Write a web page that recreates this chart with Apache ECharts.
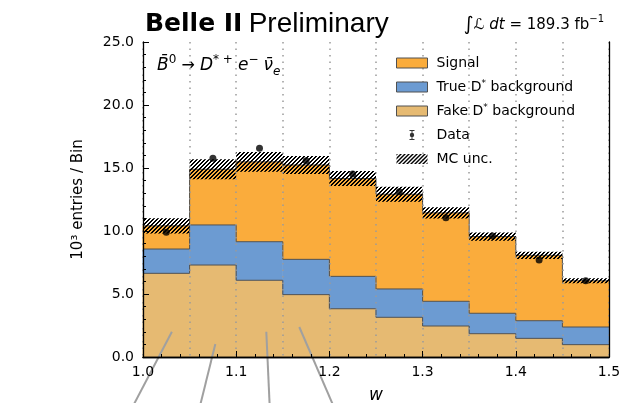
<!DOCTYPE html>
<html>
<head>
<meta charset="utf-8">
<script src="https://cdn.jsdelivr.net/npm/echarts@6/dist/echarts.min.js"></script>
<style>
  html, body { margin: 0; padding: 0; background: #fff; }
  #main { width: 621px; height: 403px; }
</style>
</head>
<body>
<div id="main"></div>
<script>
// bin edges in w, 10 bins
var binEdges = [1.00, 1.05, 1.10, 1.15, 1.20, 1.25, 1.30, 1.35, 1.40, 1.45, 1.50];
// stacked components (10^3 entries / bin)
var fakeBkg = [6.64, 7.30, 6.09, 4.95, 3.83, 3.15, 2.46, 1.85, 1.48, 0.98];
var trueBkg = [1.93, 3.18, 3.06, 2.80, 2.57, 2.25, 1.96, 1.62, 1.40, 1.40];
var signal  = [1.84, 4.42, 6.34, 7.49, 7.77, 7.52, 7.02, 6.09, 5.19, 3.67];
var mcUnc   = [0.60, 0.79, 0.78, 0.71, 0.60, 0.60, 0.44, 0.33, 0.29, 0.20];
var dataVals = [9.90, 15.77, 16.56, 15.58, 14.52, 13.12, 11.06, 9.60, 7.70, 6.06];
var yTicks = [0, 5, 10, 15, 20, 25];
var xTicks = [1.0, 1.1, 1.2, 1.3, 1.4, 1.5];
// grey pointer lines below the plot [x_top, y_top, x_bottom, y_bottom]
var pointerLines = [
  [1.031, 2.00, 0.9885, -4.0],
  [1.0776, 1.03, 1.0608, -4.0],
  [1.1323, 2.00, 1.1360, -4.0],
  [1.1677, 2.38, 1.2050, -4.0]
];

var colSignal = '#FAAC3C';
var colTrue = '#6C9BD2';
var colFake = '#E6BA72';
var edgeCol = '#505050';

// hatch pattern for MC uncertainty (crisp pixel diagonal)
var hatch = document.createElement('canvas');
hatch.width = 4; hatch.height = 4;
var hc = hatch.getContext('2d');
hc.fillStyle = '#000';
for (var k = 0; k < 4; k++) {
  hc.fillRect(k, 3 - k, 1, 1);
  hc.fillRect(k, (4 - k) % 4, 1, 1);
}
var hatchFill = { image: hatch, repeat: 'repeat' };

// build cumulative bottoms/tops
var n = fakeBkg.length;
var layerFake = [], layerTrue = [], layerSig = [], uncBand = [], dataPts = [];
for (var i = 0; i < n; i++) {
  var b1 = fakeBkg[i];
  var b2 = b1 + trueBkg[i];
  var b3 = b2 + signal[i];
  var nb1 = i < n - 1 ? fakeBkg[i + 1] : NaN;
  var nb2 = i < n - 1 ? fakeBkg[i + 1] + trueBkg[i + 1] : NaN;
  var nb3 = i < n - 1 ? fakeBkg[i + 1] + trueBkg[i + 1] + signal[i + 1] : NaN;
  layerFake.push([binEdges[i], binEdges[i + 1], 0, b1, nb1]);
  layerTrue.push([binEdges[i], binEdges[i + 1], b1, b2, nb2]);
  layerSig.push([binEdges[i], binEdges[i + 1], b2, b3, nb3]);
  uncBand.push([binEdges[i], binEdges[i + 1], b3 - mcUnc[i], b3 + mcUnc[i]]);
  dataPts.push([(binEdges[i] + binEdges[i + 1]) / 2, dataVals[i]]);
}

function stepLayer(color) {
  return function (params, api) {
    var lo = api.value(0), hi = api.value(1);
    var y0 = api.value(2), y1 = api.value(3), yn = api.value(4);
    var p0 = api.coord([lo, y0]);
    var p1 = api.coord([hi, y1]);
    var pts = [[p0[0], p1[1]], [p1[0], p1[1]]];
    if (!isNaN(yn)) pts.push(api.coord([hi, yn]));
    return {
      type: 'group',
      children: [{
        type: 'rect',
        z2: 0,
        shape: { x: p0[0] - 0.5, y: p1[1], width: p1[0] - p0[0] + 0.5, height: p0[1] - p1[1] },
        style: { fill: color }
      }, {
        type: 'polyline',
        z2: 5,
        shape: { points: pts },
        style: { stroke: edgeCol, lineWidth: 1, fill: null }
      }]
    };
  };
}

var chart = echarts.init(document.getElementById('main'));
var option = {
  animation: false,
  textStyle: { fontFamily: 'DejaVu Sans' },
  title: [{
    text: '{b|Belle II} {r|Preliminary}',
    left: 140, top: 5,
    textStyle: {
      rich: {
        b: { fontFamily: 'DejaVu Sans', fontWeight: 'bold', fontSize: 25, color: '#000' },
        r: { fontFamily: 'Liberation Sans', fontWeight: 'normal', fontSize: 28, color: '#000' }
      }
    }
  }, {
    text: '{i|∫}{s|ℒ}{m| }{s|dt}{m| = 189.3 fb}{p|−1}',
    right: 12, top: 9,
    textStyle: {
      fontWeight: 'normal',
      rich: {
        i: { fontFamily: 'DejaVu Sans', fontWeight: 'normal', fontSize: 19, color: '#000', lineHeight: 22 },
        s: { fontFamily: 'DejaVu Sans', fontWeight: 'normal', fontStyle: 'italic', fontSize: 15, color: '#000', lineHeight: 22 },
        m: { fontFamily: 'DejaVu Sans', fontWeight: 'normal', fontSize: 15, color: '#000', lineHeight: 22 },
        p: { fontFamily: 'DejaVu Sans', fontWeight: 'normal', fontSize: 10, color: '#000', verticalAlign: 'top', lineHeight: 22 }
      }
    }
  }],
  graphic: [{
    type: 'text',
    left: 157, top: 54,
    style: {
      text: '{i|B\u0304}{p|0}{n| → }{i|D}{p|* +}{n| }{i|e}{p|−}{n| }{i|ν\u0304}{b|e}',
      rich: {
        i: { fontFamily: 'DejaVu Sans', fontStyle: 'italic', fontSize: 17, fill: '#000', lineHeight: 24 },
        n: { fontFamily: 'DejaVu Sans', fontSize: 16, fill: '#000', lineHeight: 24 },
        p: { fontFamily: 'DejaVu Sans', fontSize: 12, fill: '#000', verticalAlign: 'top', lineHeight: 24 },
        b: { fontFamily: 'DejaVu Sans', fontStyle: 'italic', fontSize: 12, fill: '#000', verticalAlign: 'bottom', lineHeight: 24 }
      }
    }
  }],
  legend: {
    orient: 'vertical',
    left: 391, top: 50,
    itemWidth: 31, itemHeight: 10,
    itemGap: 8,
    icon: 'rect',
    textStyle: {
      fontFamily: 'DejaVu Sans', fontSize: 14, color: '#000', lineHeight: 16,
      padding: [0, 0, 0, 4],
      rich: { s: { fontSize: 9, verticalAlign: 'top', lineHeight: 16 } }
    },
    formatter: function (name) { return name.replace('*', '{s|*}'); },
    data: [
      { name: 'Signal', itemStyle: { color: colSignal, borderColor: edgeCol, borderWidth: 1 } },
      { name: 'True D* background', itemStyle: { color: colTrue, borderColor: edgeCol, borderWidth: 1 } },
      { name: 'Fake D* background', itemStyle: { color: colFake, borderColor: edgeCol, borderWidth: 1 } },
      { name: 'Data', icon: 'path://M0,0h8v1.5h-8z M3.2,0h1.6v16h-1.6z M0,14.5h8v1.5h-8z M4,4.5A3.5,3.5 0 1,1 3.99,4.5z', itemStyle: { color: '#000' } },
      { name: 'MC unc.', itemStyle: { color: hatchFill, borderWidth: 0 } }
    ]
  },
  grid: { left: 143, right: 12, top: 42, bottom: 46, outerBoundsMode: 'none' },
  xAxis: [{
    type: 'value', min: xTicks[0], max: xTicks[xTicks.length - 1], interval: 0.1,
    position: 'bottom', z: 10,
    axisLine: { lineStyle: { color: '#000', width: 1.3 } },
    axisTick: { inside: true, length: 6, lineStyle: { color: '#000' } },
    minorTick: { show: true, splitNumber: 5, length: 3, lineStyle: { color: '#000' } },
    axisLabel: { color: '#000', fontSize: 14, margin: 8, formatter: function (v) { return v.toFixed(1); } },
    splitLine: { show: false },
    name: 'w', nameLocation: 'middle', nameGap: 30,
    nameTextStyle: { fontStyle: 'italic', fontSize: 17, color: '#000' }
  }, {
    type: 'value', min: 1.0, max: 1.5, position: 'top', z: 10,
    axisLine: { lineStyle: { color: '#000', width: 1.3 } },
    axisTick: { show: false }, axisLabel: { show: false }, splitLine: { show: false }
  }, {
    type: 'value', min: binEdges[0], max: binEdges[binEdges.length - 1], interval: 0.05,
    position: 'bottom', z: 4,
    axisLine: { show: false }, axisTick: { show: false }, axisLabel: { show: false },
    splitLine: { show: true, lineStyle: { color: '#9a9a9a', width: 1.5, type: [1.5, 5] } }
  }],
  yAxis: [{
    type: 'value', min: yTicks[0], max: yTicks[yTicks.length - 1], interval: 5, z: 10,
    axisLine: { show: true, lineStyle: { color: '#000', width: 1.3 } },
    axisTick: { show: true, inside: true, length: 6, lineStyle: { color: '#000' } },
    minorTick: { show: true, splitNumber: 5, length: 3, lineStyle: { color: '#000' } },
    axisLabel: { color: '#000', fontSize: 14, margin: 9, formatter: function (v) { return v.toFixed(1); } },
    splitLine: { show: false },
    name: '10³ entries / Bin', nameLocation: 'middle', nameGap: 57,
    nameTextStyle: { fontSize: 15, color: '#000' }
  }, {
    type: 'value', min: 0, max: 25, position: 'right', z: 10,
    axisLine: { show: true, lineStyle: { color: '#000', width: 1.3 } },
    axisTick: { show: false }, axisLabel: { show: false }, splitLine: { show: false }
  }],
  series: [{
    name: 'Fake D* background', type: 'custom', z: 2,
    itemStyle: { color: colFake },
    renderItem: stepLayer(colFake), data: layerFake
  }, {
    name: 'True D* background', type: 'custom', z: 2,
    itemStyle: { color: colTrue },
    renderItem: stepLayer(colTrue), data: layerTrue
  }, {
    name: 'Signal', type: 'custom', z: 2,
    itemStyle: { color: colSignal },
    renderItem: stepLayer(colSignal), data: layerSig
  }, {
    name: 'MC unc.', type: 'custom', z: 3,
    itemStyle: { color: hatchFill },
    renderItem: function (params, api) {
      var p0 = api.coord([api.value(0), api.value(2)]);
      var p1 = api.coord([api.value(1), api.value(3)]);
      return {
        type: 'rect',
        shape: { x: p0[0], y: p1[1], width: p1[0] - p0[0], height: p0[1] - p1[1] },
        style: { fill: hatchFill }
      };
    },
    data: uncBand
  }, {
    name: 'Data', type: 'scatter', z: 6,
    symbol: 'circle', symbolSize: 7,
    itemStyle: { color: '#000' },
    data: dataPts
  }, {
    type: 'custom', z: 7, silent: true, clip: false,
    renderItem: function (params, api) {
      var a = api.coord([api.value(0), api.value(1)]);
      var b = api.coord([api.value(2), api.value(3)]);
      return {
        type: 'line',
        shape: { x1: a[0], y1: a[1], x2: b[0], y2: b[1] },
        style: { stroke: '#a0a0a0', lineWidth: 2 }
      };
    },
    data: pointerLines
  }]
};
chart.setOption(option);
</script>
</body>
</html>
